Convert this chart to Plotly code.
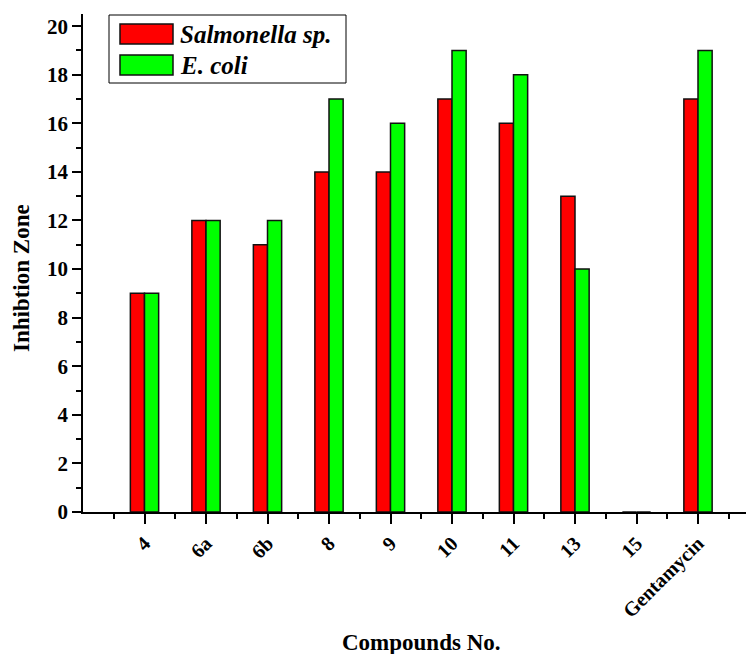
import plotly.graph_objects as go

# ---- data ----
compounds = ["4", "6a", "6b", "8", "9", "10", "11", "13", "15", "Gentamycin"]
salmonella = [9, 12, 11, 14, 14, 17, 16, 13, 0, 17]
ecoli = [9, 12, 12, 17, 16, 19, 18, 10, 0, 19]
series_names = ["Salmonella sp.", "E. coli"]
y_ticks = [0, 2, 4, 6, 8, 10, 12, 14, 16, 18, 20]

# ---- layout constants (pixels, figure coordinates; page adds 8px body margin) ----
W, H = 746, 646
ML, MR, MT, MB = 75, 0, 6, 142
PW, PH = W - ML - MR, H - MT - MB
OFF = 8  # page body margin
FONT = "Liberation Serif"
RED, GREEN = "#FF0000", "#00FF00"

xpos = list(range(1, len(compounds) + 1))


def px(x):
    """page pixel x -> paper coordinate"""
    return (x - OFF - ML) / PW


def py(y):
    """page pixel y -> paper coordinate"""
    return (H - MB - (y - OFF)) / PH


fig = go.Figure()
fig.add_trace(go.Bar(x=xpos, y=salmonella, name=series_names[0],
                     marker=dict(color=RED, line=dict(color="#111111", width=1.5))))
fig.add_trace(go.Bar(x=xpos, y=ecoli, name=series_names[1],
                     marker=dict(color=GREEN, line=dict(color="#111111", width=1.5))))

fig.update_layout(
    width=W, height=H,
    margin=dict(l=ML, r=MR, t=MT, b=MB, autoexpand=False),
    paper_bgcolor="white", plot_bgcolor="white",
    barmode="group", bargap=0.54, bargroupgap=0,
    showlegend=False,
    font=dict(family=FONT, color="black"),
)

fig.update_xaxes(
    range=[0, (754 - 83) / 61.5],
    tickmode="array", tickvals=xpos, ticktext=compounds,
    tickangle=-45,
    tickfont=dict(family=FONT, size=20, color="black", weight="bold"),
    ticks="outside", ticklen=10, tickwidth=1.5, tickcolor="black",
    minor=dict(tickmode="linear", tick0=0.5, dtick=1, ticks="outside",
               ticklen=5, tickwidth=1.5, tickcolor="black"),
    showline=True, linecolor="black", linewidth=1.5,
    showgrid=False, zeroline=False, automargin=False,
)
fig.update_yaxes(
    range=[0, 20.5],
    tickmode="array", tickvals=y_ticks,
    tickfont=dict(family=FONT, size=21, color="black", weight="bold"),
    ticks="outside", ticklen=9, tickwidth=1.5, tickcolor="black",
    minor=dict(tickmode="linear", tick0=1, dtick=2, ticks="outside",
               ticklen=5, tickwidth=1.5, tickcolor="black"),
    showline=True, linecolor="black", linewidth=1.5,
    showgrid=False, zeroline=False, automargin=False,
)

# axis titles
fig.add_annotation(text="<b>Inhibtion Zone</b>", xref="paper", yref="paper",
                   x=px(22), y=py(278), textangle=-90, showarrow=False,
                   font=dict(family=FONT, size=23, color="black"),
                   xanchor="center", yanchor="middle")
fig.add_annotation(text="<b>Compounds No.</b>", xref="paper", yref="paper",
                   x=px(421), y=py(642), showarrow=False,
                   font=dict(family=FONT, size=23, color="black"),
                   xanchor="center", yanchor="middle")

# legend (drawn manually for large swatches)
fig.add_shape(type="rect", xref="paper", yref="paper",
              x0=px(109), x1=px(346), y0=py(83), y1=py(15),
              line=dict(color="black", width=1), fillcolor="white")
rows = [(RED, series_names[0], 24, 44), (GREEN, series_names[1], 55, 75)]
for color, name, top, bot in rows:
    fig.add_shape(type="rect", xref="paper", yref="paper",
                  x0=px(120), x1=px(173), y0=py(bot), y1=py(top),
                  line=dict(color="#111111", width=1.5), fillcolor=color)
    fig.add_annotation(text=f"<b><i>{name}</i></b>", xref="paper", yref="paper",
                       x=px(178), y=py((top + bot) / 2), showarrow=False,
                       xanchor="left", yanchor="middle",
                       font=dict(family=FONT, size=25, color="black"))

fig.write_html("out.html")
